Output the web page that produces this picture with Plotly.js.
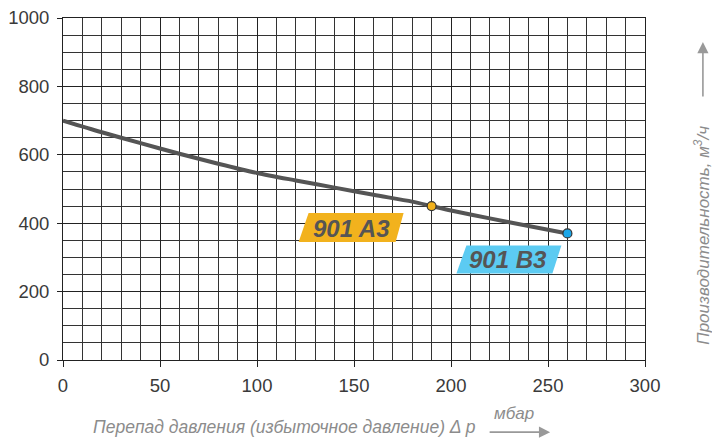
<!DOCTYPE html>
<html>
<head>
<meta charset="utf-8">
<script src="https://cdn.plot.ly/plotly-3.0.1.min.js"></script>
<style>html,body{margin:0;padding:0;background:#fff}#chart{width:712px;height:439px}</style>
</head>
<body>
<div id="chart"></div>
<script>
// Curve: pressure drop (mbar) vs capacity (m3/h)
const pressure = [0, 20, 40, 60, 80, 100, 120, 140, 160, 180, 190, 200, 220, 240, 260];
const capacity = [700, 666, 634, 603, 574, 547, 525, 504, 483, 463, 450, 437, 414, 392, 370];
// Model points
const modelNames = ['901 A3', '901 B3'];
const modelPressure = [190, 260];
const modelCapacity = [450, 370];
const modelColors = ['#f2b21d', '#1ba6e8'];
const labelColors = ['#f2b21d', '#5ccbf2'];
const xTitle = 'Перепад давления (избыточное давление) Δ p';
const xUnit = 'мбар';
const yTitle = 'Производительность, м<sup>3</sup>/ч';

const traces = [
  {x: pressure, y: capacity, mode: 'lines', line: {color: '#555555', width: 4, shape: 'spline', smoothing: 0.8}, hoverinfo: 'skip', showlegend: false},
  {x: modelPressure, y: modelCapacity, mode: 'markers',
   marker: {color: modelColors, size: 9, line: {color: '#333', width: 1.2}}, showlegend: false}
];

// Label parallelograms anchored to each model point (pixel offsets)
const labelPaths = [
  'M-123,-7 L-28,-7 L-36,-36 L-133,-36 Z',
  'M-101,-12 L-6,-12 L-15,-40 L-111,-40 Z'
];
const labelText = [[-80, 22], [-59, 26]];

const shapes = modelNames.map((n, i) => ({
  type: 'path', xref: 'x', yref: 'y', xsizemode: 'pixel', ysizemode: 'pixel',
  xanchor: modelPressure[i], yanchor: modelCapacity[i], path: labelPaths[i],
  fillcolor: labelColors[i], line: {width: 0}, layer: 'above'
}));

const annotations = modelNames.map((n, i) => ({
  x: modelPressure[i], y: modelCapacity[i], xref: 'x', yref: 'y',
  text: '<b><i>' + n + '</i></b>', showarrow: true, arrowcolor: 'rgba(0,0,0,0)',
  ax: labelText[i][0], ay: labelText[i][1],
  font: {family: 'Liberation Sans, Arial, sans-serif', size: 24, color: '#555555'}
}));

annotations.push(
  {xref: 'paper', yref: 'paper', x: 0.380, y: -0.197, xanchor: 'center', yanchor: 'middle',
   text: '<i>' + xTitle + '</i>', showarrow: false,
   font: {family: 'Liberation Sans, Arial, sans-serif', size: 17.5, color: '#8c8c8c'}},
  {xref: 'paper', yref: 'paper', x: 0.837, y: -0.211, text: '', showarrow: true, ax: -62, ay: 0,
   arrowhead: 2, arrowsize: 1.4, arrowwidth: 1.6, arrowcolor: '#999999'},
  {xref: 'paper', yref: 'paper', x: 0.775, y: -0.156, xanchor: 'center', yanchor: 'middle',
   text: '<i>' + xUnit + '</i>', showarrow: false,
   font: {family: 'Liberation Sans, Arial, sans-serif', size: 17, color: '#8c8c8c'}},
  {xref: 'paper', yref: 'paper', x: 1.0965, y: 0.364, xanchor: 'center', yanchor: 'middle',
   text: '<i>' + yTitle + '</i>', showarrow: false, textangle: -90,
   font: {family: 'Liberation Sans, Arial, sans-serif', size: 17, color: '#8c8c8c'}},
  {xref: 'paper', yref: 'paper', x: 1.0995, y: 0.93, text: '', showarrow: true, ax: 0, ay: 56,
   arrowhead: 2, arrowsize: 1.4, arrowwidth: 1.6, arrowcolor: '#999999'}
);

const axisFont = {family: 'Liberation Sans, Arial, sans-serif', size: 18.5, color: '#3a3a3a'};
const layout = {
  width: 712, height: 439,
  margin: {l: 63, r: 67, t: 18, b: 79, autoexpand: false},
  paper_bgcolor: '#ffffff', plot_bgcolor: '#ffffff',
  showlegend: false,
  xaxis: {range: [0, 300], dtick: 50, tick0: 0, ticks: 'outside', ticklen: 6, tickcolor: '#222', tickwidth: 1,
    ticklabelstandoff: 3,
    showgrid: true, gridcolor: '#222', gridwidth: 1, zeroline: false,
    showline: true, linecolor: '#222', linewidth: 1, mirror: true,
    minor: {dtick: 10, showgrid: true, gridcolor: '#333', gridwidth: 1},
    tickfont: axisFont, fixedrange: true},
  yaxis: {range: [0, 1000], dtick: 200, tick0: 0, ticks: 'outside', ticklen: 5, tickcolor: '#222', tickwidth: 1,
    ticklabelstandoff: 4,
    showgrid: true, gridcolor: '#222', gridwidth: 1, zeroline: false,
    showline: true, linecolor: '#222', linewidth: 1, mirror: true,
    minor: {dtick: 50, showgrid: true, gridcolor: '#333', gridwidth: 1},
    tickfont: axisFont, fixedrange: true},
  shapes: shapes,
  annotations: annotations
};

Plotly.newPlot('chart', traces, layout, {displayModeBar: false, staticPlot: true});
</script>
</body>
</html>
